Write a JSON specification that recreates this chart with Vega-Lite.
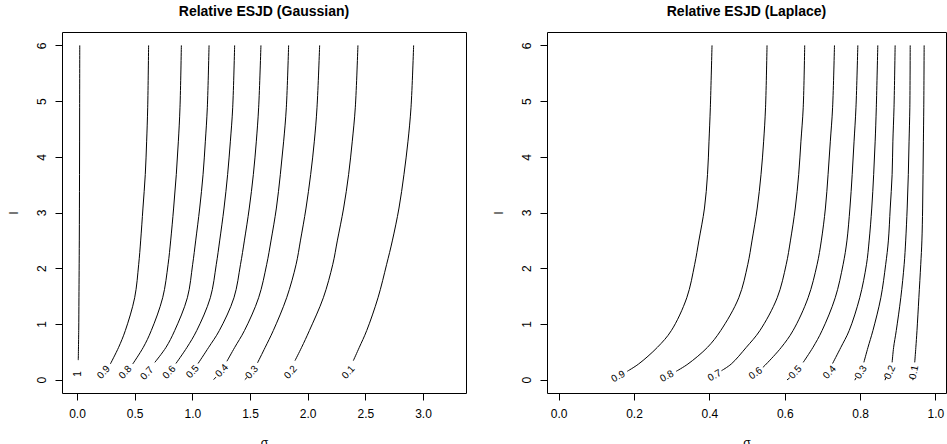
{
  "$schema": "https://vega.github.io/schema/vega-lite/v6.json",
  "padding": {"left": 6, "top": 4, "right": 0, "bottom": 0},
  "spacing": 24,
  "config": {
    "font": "Liberation Sans",
    "view": {"stroke": "black", "strokeWidth": 1},
    "axis": {"domain": false, "grid": false, "ticks": true, "tickSize": 7, "tickColor": "black", "tickWidth": 1, "labelFontSize": 12, "labelColor": "black", "titleFontSize": 12, "titleFontWeight": "normal", "titleColor": "black", "labelFlush": false, "labelOverlap": false},
    "axisY": {"labelAngle": 270, "labelAlign": "center", "labelBaseline": "bottom", "labelPadding": 7, "titlePadding": 15},
    "axisX": {"labelPadding": 8, "titlePadding": 18},
    "title": {"fontSize": 14, "fontWeight": "bold", "color": "black", "baseline": "alphabetic", "offset": 13, "anchor": "middle"}
  },
  "datasets": {
    "gauss": [
      {"c": "1", "s": 0.024, "l": 6}, {"c": "1", "s": 0.023, "l": 4.88}, {"c": "1", "s": 0.022, "l": 3.68}, {"c": "1", "s": 0.020, "l": 2.49}, {"c": "1", "s": 0.017, "l": 1.47}, {"c": "1", "s": 0.015, "l": 0.88}, {"c": "1", "s": 0.011, "l": 0.35},
      {"c": "0.9", "s": 0.621, "l": 6}, {"c": "0.9", "s": 0.613, "l": 4.88}, {"c": "0.9", "s": 0.604, "l": 4.28}, {"c": "0.9", "s": 0.592, "l": 3.68}, {"c": "0.9", "s": 0.572, "l": 3.08}, {"c": "0.9", "s": 0.552, "l": 2.49}, {"c": "0.9", "s": 0.535, "l": 2.07}, {"c": "0.9", "s": 0.500, "l": 1.47}, {"c": "0.9", "s": 0.419, "l": 0.88}, {"c": "0.9", "s": 0.361, "l": 0.58}, {"c": "0.9", "s": 0.289, "l": 0.28},
      {"c": "0.8", "s": 0.905, "l": 6}, {"c": "0.8", "s": 0.893, "l": 4.88}, {"c": "0.8", "s": 0.879, "l": 4.28}, {"c": "0.8", "s": 0.861, "l": 3.68}, {"c": "0.8", "s": 0.838, "l": 3.08}, {"c": "0.8", "s": 0.812, "l": 2.49}, {"c": "0.8", "s": 0.790, "l": 2.07}, {"c": "0.8", "s": 0.743, "l": 1.47}, {"c": "0.8", "s": 0.644, "l": 0.88}, {"c": "0.8", "s": 0.575, "l": 0.58}, {"c": "0.8", "s": 0.483, "l": 0.28},
      {"c": "0.7", "s": 1.145, "l": 6}, {"c": "0.7", "s": 1.130, "l": 4.88}, {"c": "0.7", "s": 1.113, "l": 4.28}, {"c": "0.7", "s": 1.093, "l": 3.68}, {"c": "0.7", "s": 1.064, "l": 3.08}, {"c": "0.7", "s": 1.029, "l": 2.49}, {"c": "0.7", "s": 1.003, "l": 2.07}, {"c": "0.7", "s": 0.957, "l": 1.47}, {"c": "0.7", "s": 0.847, "l": 0.88}, {"c": "0.7", "s": 0.772, "l": 0.58}, {"c": "0.7", "s": 0.675, "l": 0.31},
      {"c": "0.6", "s": 1.367, "l": 6}, {"c": "0.6", "s": 1.350, "l": 4.88}, {"c": "0.6", "s": 1.330, "l": 4.28}, {"c": "0.6", "s": 1.306, "l": 3.68}, {"c": "0.6", "s": 1.275, "l": 3.08}, {"c": "0.6", "s": 1.237, "l": 2.49}, {"c": "0.6", "s": 1.208, "l": 2.07}, {"c": "0.6", "s": 1.156, "l": 1.47}, {"c": "0.6", "s": 1.038, "l": 0.88}, {"c": "0.6", "s": 0.954, "l": 0.58}, {"c": "0.6", "s": 0.858, "l": 0.29},
      {"c": "0.5", "s": 1.595, "l": 6}, {"c": "0.5", "s": 1.575, "l": 4.88}, {"c": "0.5", "s": 1.555, "l": 4.28}, {"c": "0.5", "s": 1.529, "l": 3.68}, {"c": "0.5", "s": 1.494, "l": 3.08}, {"c": "0.5", "s": 1.451, "l": 2.49}, {"c": "0.5", "s": 1.418, "l": 2.07}, {"c": "0.5", "s": 1.361, "l": 1.47}, {"c": "0.5", "s": 1.234, "l": 0.88}, {"c": "0.5", "s": 1.142, "l": 0.58}, {"c": "0.5", "s": 1.050, "l": 0.29},
      {"c": "0.4", "s": 1.835, "l": 6}, {"c": "0.4", "s": 1.815, "l": 4.88}, {"c": "0.4", "s": 1.792, "l": 4.28}, {"c": "0.4", "s": 1.763, "l": 3.68}, {"c": "0.4", "s": 1.729, "l": 3.08}, {"c": "0.4", "s": 1.682, "l": 2.49}, {"c": "0.4", "s": 1.645, "l": 2.07}, {"c": "0.4", "s": 1.575, "l": 1.47}, {"c": "0.4", "s": 1.452, "l": 0.88}, {"c": "0.4", "s": 1.368, "l": 0.58}, {"c": "0.4", "s": 1.300, "l": 0.33},
      {"c": "0.4d", "s": 1.185, "l": 0.0}, {"c": "0.4d", "s": 1.205, "l": 0.045},
      {"c": "0.3", "s": 2.104, "l": 6}, {"c": "0.3", "s": 2.081, "l": 4.88}, {"c": "0.3", "s": 2.058, "l": 4.28}, {"c": "0.3", "s": 2.026, "l": 3.68}, {"c": "0.3", "s": 1.986, "l": 3.08}, {"c": "0.3", "s": 1.937, "l": 2.49}, {"c": "0.3", "s": 1.900, "l": 2.07}, {"c": "0.3", "s": 1.818, "l": 1.47}, {"c": "0.3", "s": 1.702, "l": 0.88}, {"c": "0.3", "s": 1.632, "l": 0.58}, {"c": "0.3", "s": 1.565, "l": 0.30},
      {"c": "0.3d", "s": 1.455, "l": 0.0}, {"c": "0.3d", "s": 1.475, "l": 0.04},
      {"c": "0.2", "s": 2.436, "l": 6}, {"c": "0.2", "s": 2.413, "l": 4.88}, {"c": "0.2", "s": 2.387, "l": 4.28}, {"c": "0.2", "s": 2.355, "l": 3.68}, {"c": "0.2", "s": 2.312, "l": 3.08}, {"c": "0.2", "s": 2.257, "l": 2.49}, {"c": "0.2", "s": 2.218, "l": 2.07}, {"c": "0.2", "s": 2.136, "l": 1.47}, {"c": "0.2", "s": 2.015, "l": 0.88}, {"c": "0.2", "s": 1.948, "l": 0.58}, {"c": "0.2", "s": 1.890, "l": 0.34},
      {"c": "0.1", "s": 2.919, "l": 6}, {"c": "0.1", "s": 2.896, "l": 4.88}, {"c": "0.1", "s": 2.870, "l": 4.28}, {"c": "0.1", "s": 2.835, "l": 3.68}, {"c": "0.1", "s": 2.792, "l": 3.08}, {"c": "0.1", "s": 2.734, "l": 2.49}, {"c": "0.1", "s": 2.685, "l": 2.07}, {"c": "0.1", "s": 2.610, "l": 1.47}, {"c": "0.1", "s": 2.512, "l": 0.88}, {"c": "0.1", "s": 2.448, "l": 0.58}, {"c": "0.1", "s": 2.396, "l": 0.34}
    ],
    "gaussLabels": [
      {"t": "1", "s": 0.010, "l": 0.10}, {"t": "0.9", "s": 0.231, "l": 0.131}, {"t": "0.8", "s": 0.419, "l": 0.131}, {"t": "0.7", "s": 0.607, "l": 0.113}, {"t": "0.6", "s": 0.800, "l": 0.131}, {"t": "0.5", "s": 1.003, "l": 0.143}, {"t": "0.4", "s": 1.257, "l": 0.161}, {"t": "0.3", "s": 1.517, "l": 0.131}, {"t": "0.2", "s": 1.853, "l": 0.131}, {"t": "0.1", "s": 2.353, "l": 0.131}
    ],
    "laplace": [
      {"c": "0.9", "s": 0.407, "l": 6}, {"c": "0.9", "s": 0.4025, "l": 4.88}, {"c": "0.9", "s": 0.399, "l": 4.28}, {"c": "0.9", "s": 0.395, "l": 3.68}, {"c": "0.9", "s": 0.387, "l": 3.08}, {"c": "0.9", "s": 0.372, "l": 2.49}, {"c": "0.9", "s": 0.361, "l": 2.07}, {"c": "0.9", "s": 0.340, "l": 1.47}, {"c": "0.9", "s": 0.299, "l": 0.88}, {"c": "0.9", "s": 0.262, "l": 0.58}, {"c": "0.9", "s": 0.212, "l": 0.28}, {"c": "0.9", "s": 0.182, "l": 0.15},
      {"c": "0.8", "s": 0.553, "l": 6}, {"c": "0.8", "s": 0.549, "l": 4.88}, {"c": "0.8", "s": 0.544, "l": 4.28}, {"c": "0.8", "s": 0.537, "l": 3.68}, {"c": "0.8", "s": 0.527, "l": 3.08}, {"c": "0.8", "s": 0.513, "l": 2.49}, {"c": "0.8", "s": 0.502, "l": 2.07}, {"c": "0.8", "s": 0.478, "l": 1.47}, {"c": "0.8", "s": 0.430, "l": 0.88}, {"c": "0.8", "s": 0.395, "l": 0.58}, {"c": "0.8", "s": 0.343, "l": 0.28}, {"c": "0.8", "s": 0.312, "l": 0.15},
      {"c": "0.7", "s": 0.653, "l": 6}, {"c": "0.7", "s": 0.649, "l": 4.88}, {"c": "0.7", "s": 0.643, "l": 4.28}, {"c": "0.7", "s": 0.637, "l": 3.68}, {"c": "0.7", "s": 0.628, "l": 3.08}, {"c": "0.7", "s": 0.615, "l": 2.49}, {"c": "0.7", "s": 0.604, "l": 2.07}, {"c": "0.7", "s": 0.580, "l": 1.47}, {"c": "0.7", "s": 0.534, "l": 0.88}, {"c": "0.7", "s": 0.498, "l": 0.58}, {"c": "0.7", "s": 0.458, "l": 0.28}, {"c": "0.7", "s": 0.432, "l": 0.16},
      {"c": "0.6", "s": 0.732, "l": 6}, {"c": "0.6", "s": 0.727, "l": 4.88}, {"c": "0.6", "s": 0.721, "l": 4.28}, {"c": "0.6", "s": 0.715, "l": 3.68}, {"c": "0.6", "s": 0.708, "l": 3.08}, {"c": "0.6", "s": 0.697, "l": 2.49}, {"c": "0.6", "s": 0.686, "l": 2.07}, {"c": "0.6", "s": 0.662, "l": 1.47}, {"c": "0.6", "s": 0.622, "l": 0.88}, {"c": "0.6", "s": 0.591, "l": 0.58}, {"c": "0.6", "s": 0.551, "l": 0.28}, {"c": "0.6", "s": 0.542, "l": 0.22},
      {"c": "0.5", "s": 0.794, "l": 6}, {"c": "0.5", "s": 0.789, "l": 4.88}, {"c": "0.5", "s": 0.784, "l": 4.28}, {"c": "0.5", "s": 0.779, "l": 3.68}, {"c": "0.5", "s": 0.773, "l": 3.08}, {"c": "0.5", "s": 0.765, "l": 2.49}, {"c": "0.5", "s": 0.755, "l": 2.07}, {"c": "0.5", "s": 0.734, "l": 1.47}, {"c": "0.5", "s": 0.699, "l": 0.88}, {"c": "0.5", "s": 0.675, "l": 0.58}, {"c": "0.5", "s": 0.649, "l": 0.31},
      {"c": "0.5d", "s": 0.606, "l": -0.005}, {"c": "0.5d", "s": 0.613, "l": 0.03},
      {"c": "0.4", "s": 0.847, "l": 6}, {"c": "0.4", "s": 0.843, "l": 4.88}, {"c": "0.4", "s": 0.840, "l": 4.28}, {"c": "0.4", "s": 0.836, "l": 3.68}, {"c": "0.4", "s": 0.831, "l": 3.08}, {"c": "0.4", "s": 0.824, "l": 2.49}, {"c": "0.4", "s": 0.817, "l": 2.07}, {"c": "0.4", "s": 0.799, "l": 1.47}, {"c": "0.4", "s": 0.771, "l": 0.88}, {"c": "0.4", "s": 0.749, "l": 0.58}, {"c": "0.4", "s": 0.727, "l": 0.29},
      {"c": "0.3", "s": 0.893, "l": 6}, {"c": "0.3", "s": 0.890, "l": 4.88}, {"c": "0.3", "s": 0.887, "l": 4.28}, {"c": "0.3", "s": 0.885, "l": 3.68}, {"c": "0.3", "s": 0.880, "l": 3.08}, {"c": "0.3", "s": 0.875, "l": 2.49}, {"c": "0.3", "s": 0.868, "l": 2.07}, {"c": "0.3", "s": 0.855, "l": 1.47}, {"c": "0.3", "s": 0.834, "l": 0.88}, {"c": "0.3", "s": 0.821, "l": 0.58}, {"c": "0.3", "s": 0.810, "l": 0.31},
      {"c": "0.3d", "s": 0.786, "l": -0.01}, {"c": "0.3d", "s": 0.789, "l": 0.03},
      {"c": "0.2", "s": 0.933, "l": 6}, {"c": "0.2", "s": 0.932, "l": 4.88}, {"c": "0.2", "s": 0.930, "l": 4.28}, {"c": "0.2", "s": 0.928, "l": 3.68}, {"c": "0.2", "s": 0.925, "l": 3.08}, {"c": "0.2", "s": 0.921, "l": 2.49}, {"c": "0.2", "s": 0.917, "l": 2.07}, {"c": "0.2", "s": 0.908, "l": 1.47}, {"c": "0.2", "s": 0.896, "l": 0.88}, {"c": "0.2", "s": 0.889, "l": 0.58}, {"c": "0.2", "s": 0.885, "l": 0.31},
      {"c": "0.2d", "s": 0.866, "l": -0.01}, {"c": "0.2d", "s": 0.868, "l": 0.03},
      {"c": "0.1", "s": 0.970, "l": 6}, {"c": "0.1", "s": 0.969, "l": 4.88}, {"c": "0.1", "s": 0.968, "l": 4.28}, {"c": "0.1", "s": 0.967, "l": 3.68}, {"c": "0.1", "s": 0.966, "l": 3.08}, {"c": "0.1", "s": 0.964, "l": 2.49}, {"c": "0.1", "s": 0.961, "l": 2.07}, {"c": "0.1", "s": 0.956, "l": 1.47}, {"c": "0.1", "s": 0.951, "l": 0.88}, {"c": "0.1", "s": 0.948, "l": 0.58}, {"c": "0.1", "s": 0.945, "l": 0.31},
      {"c": "0.1d", "s": 0.940, "l": -0.01}, {"c": "0.1d", "s": 0.941, "l": 0.03}
    ],
    "laplaceLabels": [
      {"t": "0.9", "s": 0.158, "l": 0.056}, {"t": "0.8", "s": 0.287, "l": 0.06}, {"t": "0.7", "s": 0.414, "l": 0.072}, {"t": "0.6", "s": 0.523, "l": 0.113}, {"t": "0.5", "s": 0.628, "l": 0.131}, {"t": "0.4", "s": 0.719, "l": 0.131}, {"t": "0.3", "s": 0.802, "l": 0.131}, {"t": "0.2", "s": 0.879, "l": 0.131}, {"t": "0.1", "s": 0.943, "l": 0.131}
    ]
  },
  "hconcat": [
    {
      "width": 404,
      "height": 361,
      "title": "Relative ESJD (Gaussian)",
      "layer": [
        {
          "data": {"name": "gauss"},
          "mark": {"type": "line", "color": "black", "strokeWidth": 1, "interpolate": "catmull-rom"},
          "encoding": {
            "x": {"field": "s", "type": "quantitative", "title": "σ", "scale": {"domain": [-0.13, 3.373], "nice": false, "zero": false}, "axis": {"values": [0, 0.5, 1, 1.5, 2, 2.5, 3], "format": ".1f"}},
            "y": {"field": "l", "type": "quantitative", "title": "l", "scale": {"domain": [-0.24, 6.24], "nice": false, "zero": false}, "axis": {"values": [0, 1, 2, 3, 4, 5, 6], "format": "d"}},
            "detail": {"field": "c"},
            "order": {"field": "l", "type": "quantitative"}
          }
        },
        {
          "data": {"name": "gaussLabels"},
          "mark": {"type": "text", "fontSize": 10, "color": "black", "align": "center", "baseline": "middle"},
          "encoding": {
            "x": {"field": "s", "type": "quantitative"},
            "y": {"field": "l", "type": "quantitative"},
            "text": {"field": "t"},
            "angle": {"condition": {"test": "datum.t == '1'", "value": 270}, "value": 312}
          }
        }
      ]
    },
    {
      "width": 399,
      "height": 361,
      "title": "Relative ESJD (Laplace)",
      "layer": [
        {
          "data": {"name": "laplace"},
          "mark": {"type": "line", "color": "black", "strokeWidth": 1, "interpolate": "catmull-rom"},
          "encoding": {
            "x": {"field": "s", "type": "quantitative", "title": "σ", "scale": {"domain": [-0.031, 1.028], "nice": false, "zero": false}, "axis": {"values": [0, 0.2, 0.4, 0.6, 0.8, 1.0], "format": ".1f"}},
            "y": {"field": "l", "type": "quantitative", "title": "l", "scale": {"domain": [-0.24, 6.24], "nice": false, "zero": false}, "axis": {"values": [0, 1, 2, 3, 4, 5, 6], "format": "d"}},
            "detail": {"field": "c"},
            "order": {"field": "l", "type": "quantitative"}
          }
        },
        {
          "data": {"name": "laplaceLabels"},
          "mark": {"type": "text", "fontSize": 10, "color": "black", "align": "center", "baseline": "middle"},
          "encoding": {
            "x": {"field": "s", "type": "quantitative"},
            "y": {"field": "l", "type": "quantitative"},
            "text": {"field": "t"},
            "angle": {"condition": [
              {"test": "datum.t == '0.6'", "value": 324},
              {"test": "datum.t == '0.5' || datum.t == '0.4'", "value": 313},
              {"test": "datum.t == '0.3'", "value": 302},
              {"test": "datum.t == '0.2'", "value": 294},
              {"test": "datum.t == '0.1'", "value": 281}
            ], "value": 331}
          }
        }
      ]
    }
  ]
}
